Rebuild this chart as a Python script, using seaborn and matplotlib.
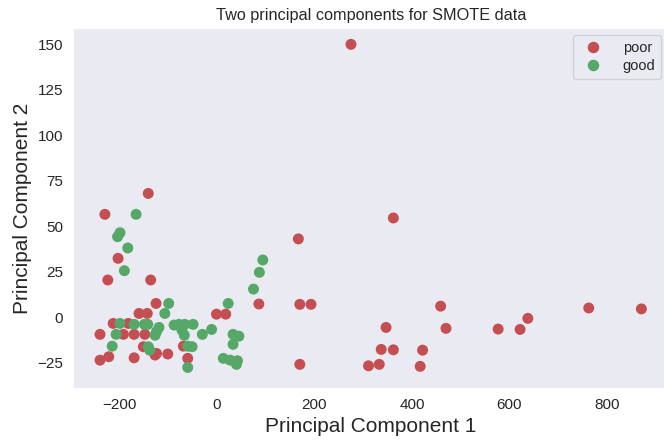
import matplotlib
matplotlib.use("Agg")
import matplotlib.pyplot as plt
import seaborn as sns
import pandas as pd

# poor (red) points
poor_pc1 = [275, 362, 167, 170, 193, 459, 763, 871, 347, 470, 577, 622, 638,
            337, 362, 422, 170, 311, 333, 417, 86, -1, 18,
            -141, -230, -203, -224, -136, -125, -160, -143, -213, -182,
            -240, -192, -170, -148, -151, -69, -240, -222, -170, -127, -124,
            -101, -60]
poor_pc2 = [150, 54.5, 43, 7, 7, 6, 5, 4.5, -5.7, -6.2, -6.6, -6.8, -0.7,
            -17.8, -18, -18.2, -26, -26.8, -26, -27.1, 7.2, 1.6, 1.6,
            68, 56.5, 32.3, 20.4, 20.4, 7.5, 2, 2, -3.5, -3.5,
            -9.5, -9.5, -9.5, -9.5, -16.3, -16, -23.7, -21.8, -22.4, -20.9, -20,
            -20.3, -22.7]

# good (green) points
good_pc1 = [-166, -199, -204, -183, -190, 94, 87, 75, 23, -99, -107,
            -199, -170, -149, -142, -119, -124, -127, -207, -215, -141, -138,
            -88, -78, -66, -49, -72, -67, -30, -11, 33, 45, 33,
            -60, -51, -60, 13, 27, 42, 40]
good_pc2 = [56.5, 46.4, 44.2, 38, 25.5, 31.4, 24.6, 15.4, 7.5, 7.5, 2,
            -3.5, -4, -4, -4, -5.7, -8, -10, -9.5, -16, -16.3, -18.2,
            -4.4, -4, -4, -4, -7.2, -10, -9.5, -6.8, -9.5, -10.5, -15,
            -16, -16.3, -27.7, -22.7, -23.7, -24, -26]

labels = ["poor", "good"]
colors = ["#c44e52", "#55a868"]

df = pd.DataFrame({
    "PC1": poor_pc1 + good_pc1,
    "PC2": poor_pc2 + good_pc2,
    "target": [labels[0]] * len(poor_pc1) + [labels[1]] * len(good_pc1),
})

sns.set_style("dark")
plt.rcParams["font.family"] = ["Liberation Sans", "DejaVu Sans"]

fig = plt.figure(figsize=(6.64, 4.42), dpi=100)
ax = fig.add_axes([0.1099, 0.1222, 0.8968, 0.8145])

sns.scatterplot(data=df, x="PC1", y="PC2", hue="target", hue_order=labels,
                palette=colors, s=62, linewidth=0, ax=ax)

ax.set_xlim(-295.5, 926.5)
ax.set_ylim(-39, 159)
ax.set_xticks([-200, 0, 200, 400, 600, 800])
ax.set_yticks([-25, 0, 25, 50, 75, 100, 125, 150])
ax.tick_params(labelsize=11)
ax.set_xlabel("Principal Component 1", fontsize=15)
ax.set_ylabel("Principal Component 2", fontsize=15)
ax.set_title("Two principal components for SMOTE data", fontsize=11.7)
ax.legend(loc="upper right", fontsize=10.5, handletextpad=1.0,
          labelspacing=0.3, markerscale=1.05)

fig.savefig("out.png", dpi=100)
